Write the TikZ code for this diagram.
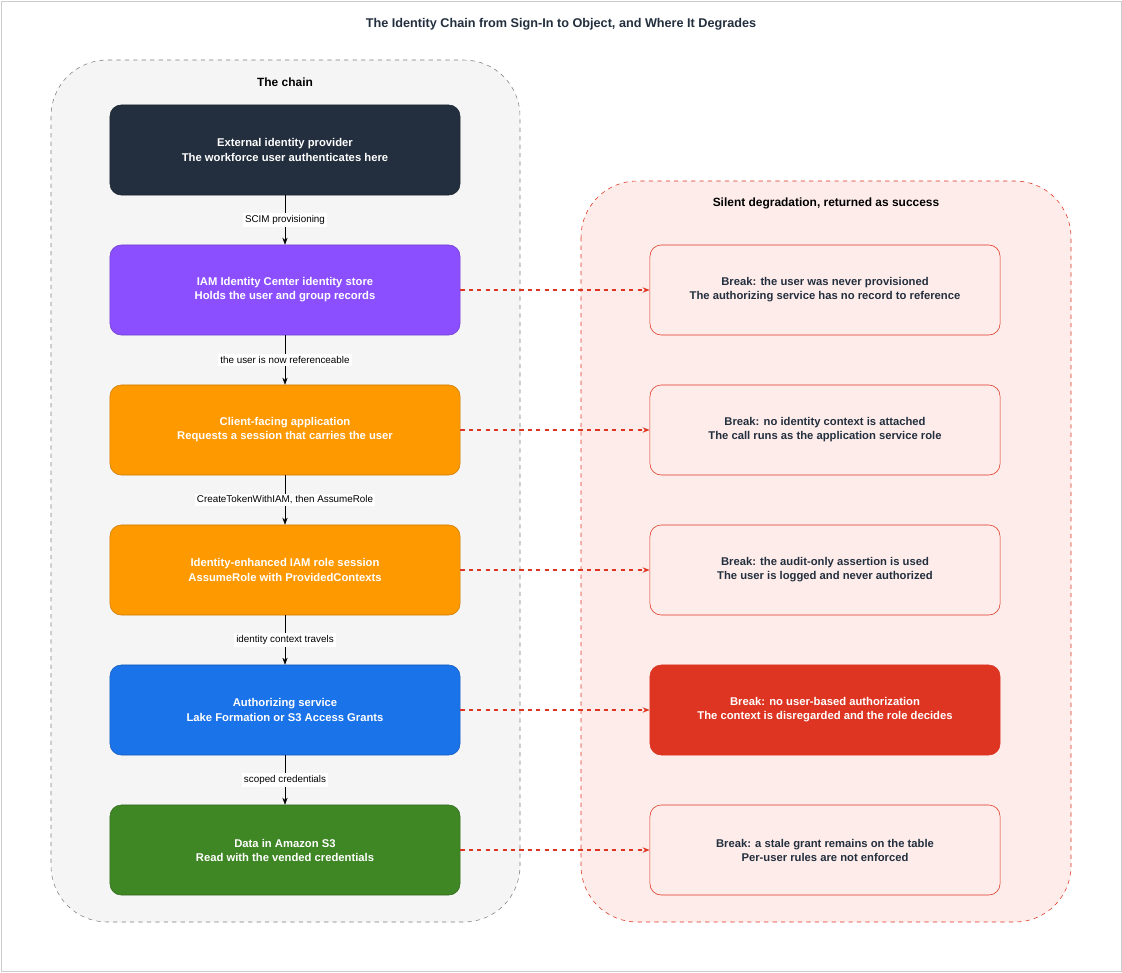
\documentclass[tikz,border=0pt]{standalone}
\usepackage{fontspec}
\setmainfont{Liberation Sans}
\usetikzlibrary{arrows.meta,positioning}
\definecolor{idpdark}{HTML}{232F3E}
\definecolor{idcpurple}{HTML}{8C4FFF}
\definecolor{apporange}{HTML}{FF9900}
\definecolor{authblue}{HTML}{1A73E8}
\definecolor{datagreen}{HTML}{3F8624}
\definecolor{breakred}{HTML}{DD3522}
\definecolor{breakfill}{HTML}{FDECEA}
\definecolor{chainfill}{HTML}{F5F5F5}
\tikzset{
  chainbox/.style={draw=#1!80!black, fill=#1, rounded corners=8pt, minimum width=8.75cm, minimum height=2.25cm, align=center, text=white, font=\bfseries\fontsize{8}{10}\selectfont},
  breakbox/.style={draw=breakred, fill=breakfill, rounded corners=8pt, minimum width=8.75cm, minimum height=2.25cm, align=center, text=idpdark, font=\bfseries\fontsize{8}{10}\selectfont},
  hotbreak/.style={breakbox, fill=breakred, text=white},
  steplabel/.style={fill=white, inner sep=1.5pt, font=\fontsize{7}{9}\selectfont},
  flow/.style={-{Stealth[length=5pt]}, black},
  leak/.style={-{Stealth[length=5pt]}, breakred, dashed, thick}
}
\begin{document}
\begin{tikzpicture}[x=0.025cm,y=-0.025cm]
	\useasboundingbox (0,0) rectangle (1122,972);
	\draw[black!20, fill=white] (1,1) rectangle (1121,971);
	\node [font=\bfseries\fontsize{9}{11}\selectfont, text=idpdark] (title) at (561,24) {The Identity Chain from Sign-In to Object, and Where It Degrades};
	
	\draw [gray, dashed, fill=chainfill, rounded corners=40pt] (51,60) rectangle (520,922);
	\node [font=\bfseries\fontsize{8.5}{10}\selectfont] (chaintitle) at (285,82) {The chain};
	\draw [breakred, dashed, fill=breakfill, rounded corners=40pt] (581,181) rectangle (1071,922);
	\node [font=\bfseries\fontsize{8.5}{10}\selectfont] (degtitle) at (826,203) {Silent degradation, returned as success};
	
	\node [chainbox=idpdark] (idp) at (285,150) {External identity provider\\The workforce user authenticates here};
	\node [chainbox=idcpurple] (store) at (285,290) {IAM Identity Center identity store\\Holds the user and group records};
	\node [chainbox=apporange] (app) at (285,430) {Client-facing application\\Requests a session that carries the user};
	\node [chainbox=apporange] (role) at (285,570) {Identity-enhanced IAM role session\\AssumeRole with ProvidedContexts};
	\node [chainbox=authblue] (auth) at (285,710) {Authorizing service\\Lake Formation or S3 Access Grants};
	\node [chainbox=datagreen] (data) at (285,850) {Data in Amazon S3\\Read with the vended credentials};
	
	\node [breakbox] (brk1) at (825,290) {Break: the user was never provisioned\\The authorizing service has no record to reference};
	\node [breakbox] (brk2) at (825,430) {Break: no identity context is attached\\The call runs as the application service role};
	\node [breakbox] (brk3) at (825,570) {Break: the audit-only assertion is used\\The user is logged and never authorized};
	\node [hotbreak] (brk4) at (825,710) {Break: no user-based authorization\\The context is disregarded and the role decides};
	\node [breakbox] (brk5) at (825,850) {Break: a stale grant remains on the table\\Per-user rules are not enforced};
	
	\draw [flow] (idp) to node [steplabel] {SCIM provisioning} (store);
	\draw [flow] (store) to node [steplabel] {the user is now referenceable} (app);
	\draw [flow] (app) to node [steplabel] {CreateTokenWithIAM, then AssumeRole} (role);
	\draw [flow] (role) to node [steplabel] {identity context travels} (auth);
	\draw [flow] (auth) to node [steplabel] {scoped credentials} (data);
	
	\draw [leak] (store) to (brk1);
	\draw [leak] (app) to (brk2);
	\draw [leak] (role) to (brk3);
	\draw [leak] (auth) to (brk4);
	\draw [leak] (data) to (brk5);
\end{tikzpicture}
\end{document}
